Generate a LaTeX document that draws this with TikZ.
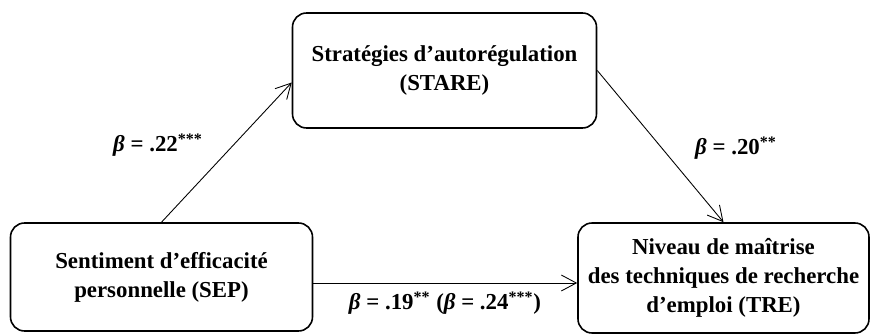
\documentclass[tikz,border=0pt]{standalone}
\usepackage{fontspec}
\setmainfont{Liberation Serif}
\usetikzlibrary{arrows.meta,positioning,calc}

\begin{document}
\begin{tikzpicture}[
    x=0.02cm, y=-0.02cm,
    var/.style={rectangle, draw, line width=0.9pt, rounded corners=8pt, align=center,
        font=\fontsize{13}{16.5}\selectfont\bfseries, minimum width=#1},
    var/.default=300,
    arr/.style={-{Straight Barb[length=3mm, width=3.2mm]}, line width=0.5pt},
    coef/.style={font=\fontsize{13}{15}\selectfont\bfseries}
]
\useasboundingbox (0,0) rectangle (870,334);

% Variables
\node[var=304*0.02cm, minimum height=115*0.02cm] (stare) at (444.5, 70.5)
    {Stratégies d'autorégulation\\(STARE)};
\node[var=302*0.02cm, minimum height=108*0.02cm] (sep) at (161.5, 277)
    {Sentiment d'efficacité\\personnelle (SEP)};
\node[var=291*0.02cm, minimum height=110*0.02cm] (tre) at (723.5, 278)
    {Niveau de maîtrise\\des techniques de recherche\\d'emploi (TRE)};

% Paths
\draw[arr] (sep.north) -- ($(stare.west)+(0,12)$);
\draw[arr] (stare.east) -- (tre.north);
\draw[arr] ($(sep.east)+(0,6)$) -- ($(tre.west)+(0,5)$);

% Coefficients
\node[coef] (b1) at (158, 145) {{\itshape β} = .22\textsuperscript{***}};
\node[coef] (b2) at (736, 148) {{\itshape β} = .20\textsuperscript{**}};
\node[coef] (b3) at (445, 303) {{\itshape β} = .19\textsuperscript{**} ({\itshape β} = .24\textsuperscript{***})};

\end{tikzpicture}
\end{document}
